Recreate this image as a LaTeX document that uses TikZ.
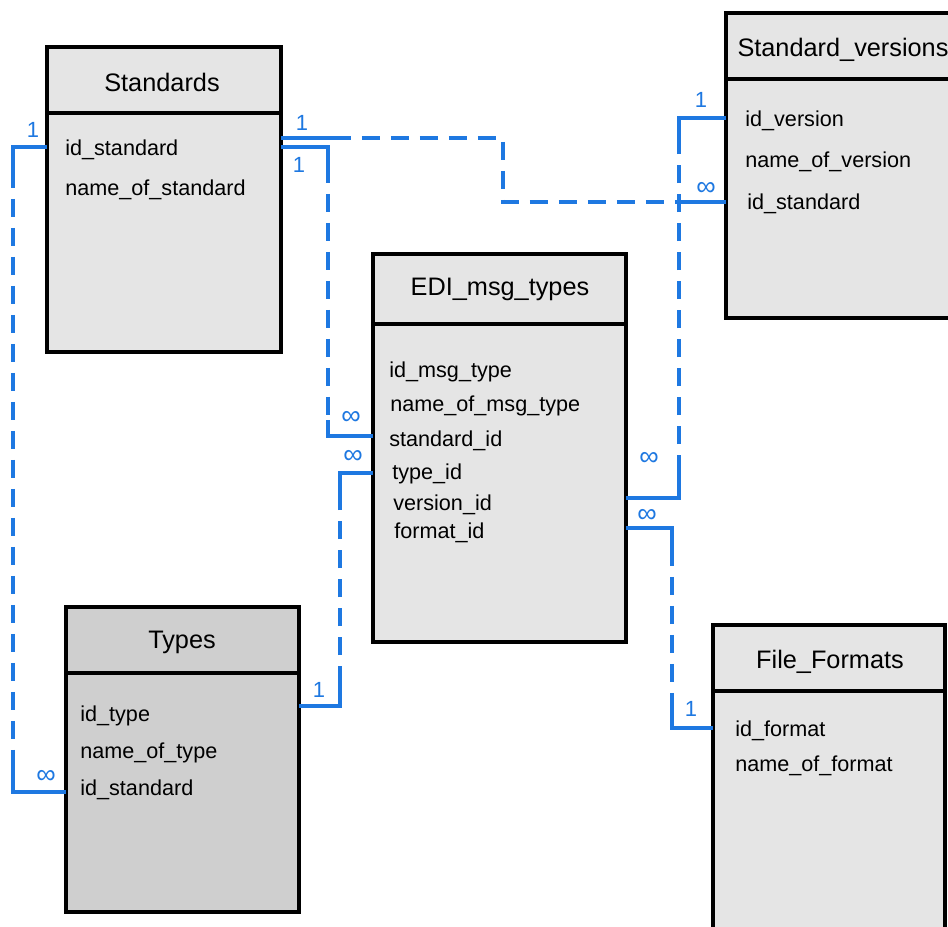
\documentclass[tikz,border=0pt]{standalone}
\usepackage{fontspec}
\setmainfont{Liberation Sans}
\definecolor{relblue}{RGB}{30,120,225}
\definecolor{boxfill}{RGB}{229,229,229}
\definecolor{boxdark}{RGB}{207,207,207}
\tikzset{
  tbl/.style={draw=black, line width=2.2pt, anchor=north west, inner sep=0pt, outer sep=0pt},
  ttl/.style={font=\fontsize{14.4}{16}\selectfont, anchor=base, inner sep=0pt},
  fld/.style={font=\fontsize{12.3}{14}\selectfont, anchor=base west, inner sep=0pt},
  card/.style={font=\fontsize{12.5}{14}\selectfont, text=relblue, inner sep=0pt},
  many/.style={font=\fontsize{15.5}{16}\selectfont, text=relblue, inner sep=0pt},
  rel/.style={draw=relblue, line width=1.9pt},
  reldash/.style={rel, dash pattern=on 10.5pt off 6pt},
  hdr/.style={line width=2.2pt},
}
\begin{document}
\begin{tikzpicture}[x=0.02cm,y=-0.02cm]
\useasboundingbox (0,0) rectangle (948,927);
\clip (0,0) rectangle (948,927);
\fill[white] (0,0) rectangle (948,927);

% ---- tables ----
\node[tbl, fill=boxfill, minimum width=234*0.02cm, minimum height=305*0.02cm] (std) at (47,47) {};
\draw[hdr] (47,113) -- (281,113);
\node[ttl] (stdT) at (162,91) {Standards};
\node[fld] (std1) at (65,155) {id\_standard};
\node[fld] (std2) at (65,195) {name\_of\_standard};

\node[tbl, fill=boxfill, minimum width=234*0.02cm, minimum height=305*0.02cm] (sv) at (726,13) {};
\draw[hdr] (726,79) -- (960,79);
\node[ttl] (svT) at (843,56) {Standard\_versions};
\node[fld] (sv1) at (745,126) {id\_version};
\node[fld] (sv2) at (745,167) {name\_of\_version};
\node[fld] (sv3) at (747,209) {id\_standard};

\node[tbl, fill=boxfill, minimum width=253*0.02cm, minimum height=388*0.02cm] (edi) at (373,254) {};
\draw[hdr] (373,324) -- (626,324);
\node[ttl] (ediT) at (500,295) {EDI\_msg\_types};
\node[fld] (edi1) at (389,377) {id\_msg\_type};
\node[fld] (edi2) at (390,411) {name\_of\_msg\_type};
\node[fld] (edi3) at (389,446) {standard\_id};
\node[fld] (edi4) at (392,479) {type\_id};
\node[fld] (edi5) at (393,510) {version\_id};
\node[fld] (edi6) at (394,538) {format\_id};

\node[tbl, fill=boxdark, minimum width=233*0.02cm, minimum height=305*0.02cm] (typ) at (66,607) {};
\draw[hdr] (66,673) -- (299,673);
\node[ttl] (typT) at (182,648) {Types};
\node[fld] (typ1) at (80,721) {id\_type};
\node[fld] (typ2) at (80,758) {name\_of\_type};
\node[fld] (typ3) at (80,795) {id\_standard};

\node[tbl, fill=boxfill, minimum width=232*0.02cm, minimum height=400*0.02cm] (ff) at (713,625) {};
\draw[hdr] (713,691) -- (945,691);
\node[ttl] (ffT) at (830,668) {File\_Formats};
\node[fld] (ff1) at (735,736) {id\_format};
\node[fld] (ff2) at (735,771) {name\_of\_format};

% ---- attachment points on the table edges ----
\coordinate (sL)   at (47,147);
\coordinate (sR1)  at (281,138);
\coordinate (sR2)  at (281,147);
\coordinate (svL1) at (726,118);
\coordinate (svL3) at (726,202);
\coordinate (eL1)  at (373,436);
\coordinate (eL2)  at (373,473);
\coordinate (eR1)  at (626,498);
\coordinate (eR2)  at (626,528);
\coordinate (tL)   at (66,792);
\coordinate (tR)   at (299,706);
\coordinate (fL)   at (713,728);

% ---- relations: solid stubs at the ends, dashed in between ----
% Standards.id_standard -> Types.id_standard
\coordinate (a1) at (13,170); \coordinate (b1) at (13,762);
\draw[rel] (sL) -| (a1);
\draw[reldash] (a1) -- (b1);
\draw[rel] (b1) |- (tL);

% Standards.id_standard -> Standard_versions.id_standard
\coordinate (a2) at (333,138); \coordinate (b2) at (693,202);
\draw[rel] (sR1) -- (a2);
\draw[reldash] (a2) -- (503,138) -- (503,202) -- (b2);
\draw[rel] (b2) -- (svL3);

% Standards.id_standard -> EDI_msg_types.standard_id
\coordinate (a3) at (328,165); \coordinate (b3) at (328,420);
\draw[rel] (sR2) -| (a3);
\draw[reldash] (a3) -- (b3);
\draw[rel] (b3) |- (eL1);

% Types.id_type -> EDI_msg_types.type_id
\coordinate (a4) at (340,684); \coordinate (b4) at (340,497);
\draw[rel] (tR) -| (a4);
\draw[reldash] (a4) -- (b4);
\draw[rel] (b4) |- (eL2);

% Standard_versions.id_version -> EDI_msg_types.version_id
\coordinate (a5) at (679,473); \coordinate (b5) at (679,142);
\draw[rel] (eR1) -| (a5);
\draw[reldash] (a5) -- (b5);
\draw[rel] (b5) |- (svL1);

% File_Formats.id_format -> EDI_msg_types.format_id
\coordinate (a6) at (672,548); \coordinate (b6) at (672,702);
\draw[rel] (eR2) -| (a6);
\draw[reldash] (a6) -- (b6);
\draw[rel] (b6) |- (fL);

% ---- cardinalities ----
\node[card] (k1)  at (33,130)  {1};
\node[card] (k2)  at (302,123) {1};
\node[card] (k3)  at (299,165) {1};
\node[many] (k4)  at (706,189) {∞};
\node[card] (k5)  at (701,100) {1};
\node[many] (k6)  at (351,418) {∞};
\node[many] (k7)  at (353,457) {∞};
\node[many] (k8)  at (649,459) {∞};
\node[many] (k9)  at (647,516) {∞};
\node[card] (k10) at (319,690) {1};
\node[many] (k11) at (46,777)  {∞};
\node[card] (k12) at (691,709) {1};
\end{tikzpicture}
\end{document}
